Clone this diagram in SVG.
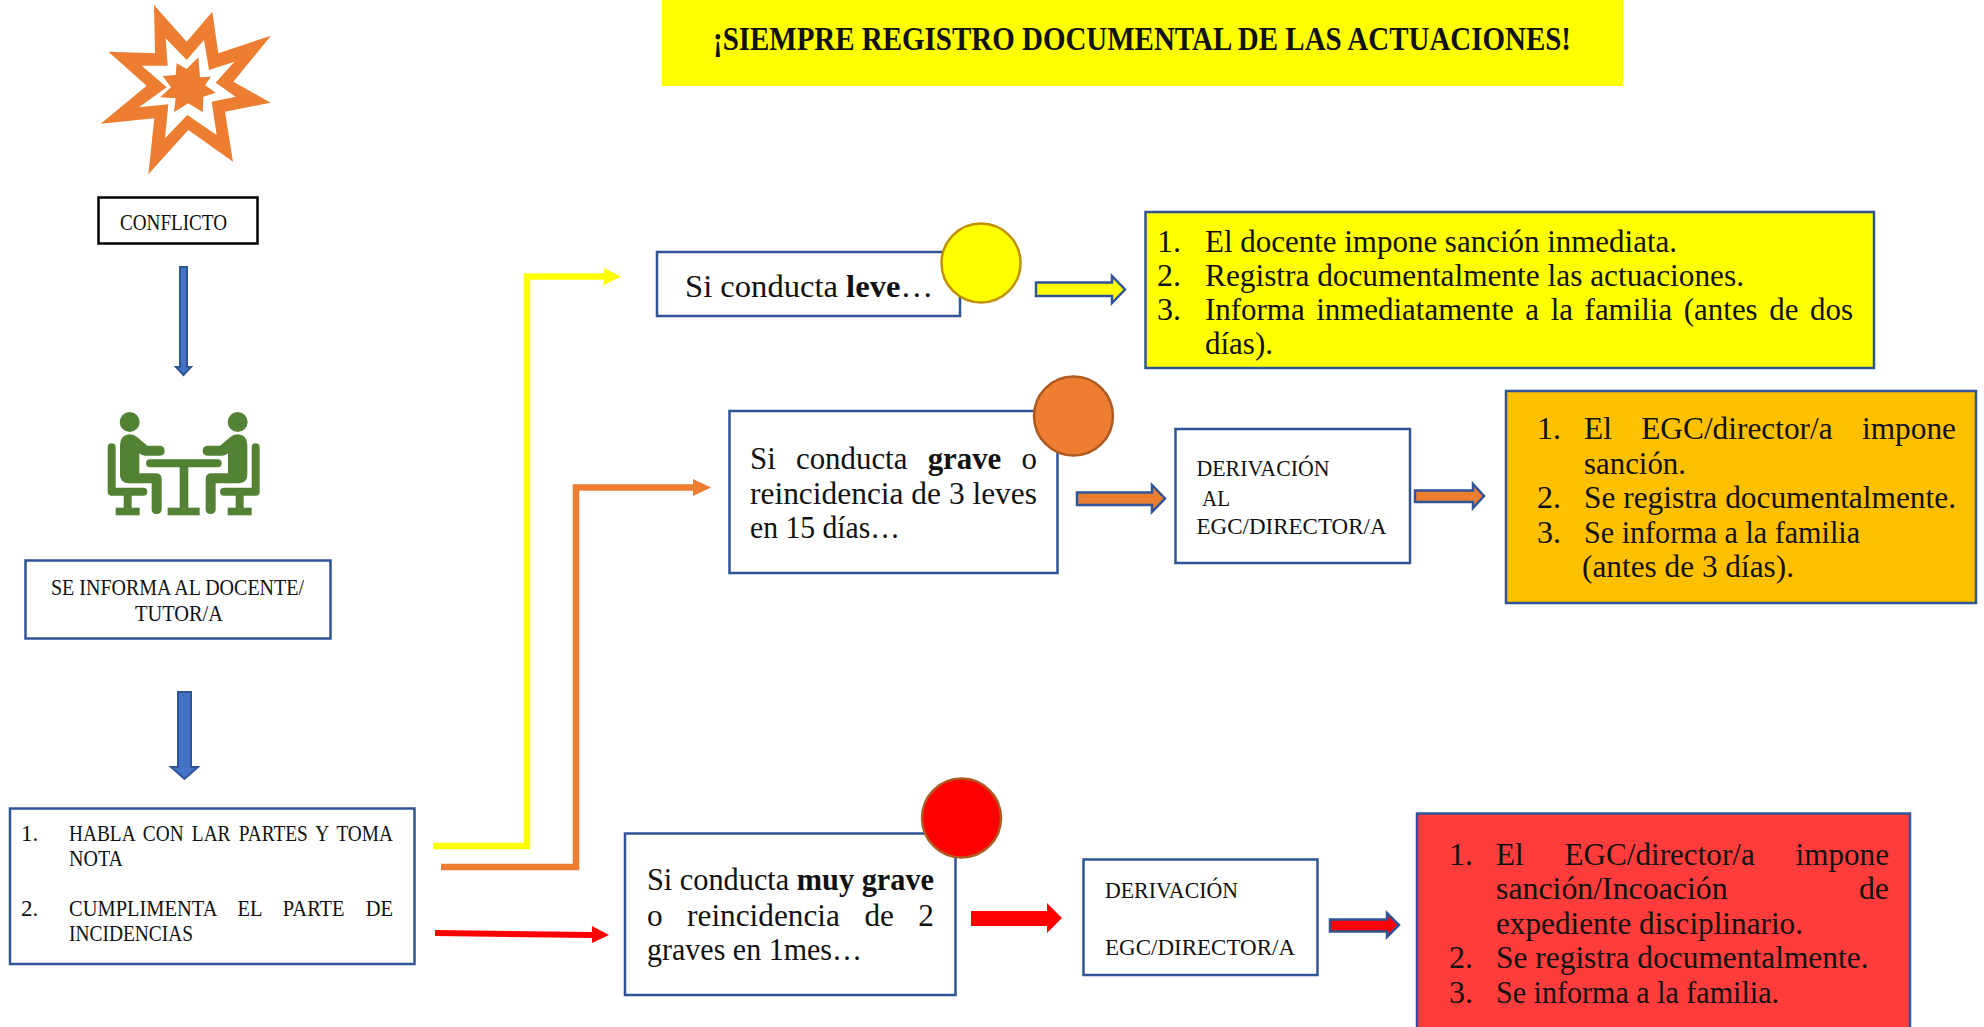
<svg xmlns="http://www.w3.org/2000/svg" xmlns:xlink="http://www.w3.org/1999/xlink" width="1984" height="1027" viewBox="0 0 1984 1027">
<style>
text{font-family:"Liberation Serif","Times New Roman",serif;fill:#111}
.s{font-size:23px}
.l{font-size:32px}
.box{fill:#fff;stroke:#2f5597;stroke-width:2.5}
.blk{fill:#fff;stroke:#000;stroke-width:2.5}
.or{fill:#ed7d31}
.gr{fill:#548235}
.ol{fill:none;stroke-width:6.500}
.ar{stroke:#2f5597;stroke-width:2.500}
.b{font-weight:700}
</style>
<defs>
<g id="person" class="gr">
<circle cx="209" cy="126" r="30"/>
<path d="M180 195Q180 165 208 163Q222 163 232 172L262 197H300Q314 199 314 212Q314 226 300 227H255Q245 227 238 220V280H290Q305 282 305 297V390Q303 402 290 402Q277 402 275 390V310H205Q180 308 180 285Z"/>
<path d="M155 202V335H250" fill="none" stroke="#548235" stroke-width="24" stroke-linecap="round" stroke-linejoin="round"/>
<rect x="191" y="345" width="24" height="45"/>
<rect x="167" y="383" width="72" height="23"/>
</g>
</defs>
<rect width="1984" height="1027" fill="#fff"/>

<g id="banner">
<rect x="662" y="0" width="961" height="86" fill="#ff0" />
<text class="b" x="713" y="50" font-size="33" textLength="858" lengthAdjust="spacingAndGlyphs">¡SIEMPRE REGISTRO DOCUMENTAL DE LAS ACTUACIONES!</text>
</g>

<g id="explosion" transform="translate(60 0) scale(.33333)">
<path class="or" fill-rule="evenodd" d="M282 15L380 125L457 35L475 160L633 107L520 245L632 308L495 335L519 485L385 390L265 523L283 355L122 371L260 257L145 155L285 160ZM317 115L323 197L245 197L320 262L237 322L325 313L315 415L382 345L470 405L455 305L527 290L467 248L523 185L447 210L432 120L380 180Z"/>
<path class="or" d="M350 190L380 207L415 172L420 232L453 230L435 255L467 278L430 290L428 337L385 310L342 337L347 295L300 292L333 262L308 228L347 225Z"/>
</g>

<g id="conflicto">
<rect class="blk" x="98.500" y="197.500" width="159" height="46"/>
<text class="s" x="120" y="229.500" textLength="107" lengthAdjust="spacingAndGlyphs">CONFLICTO</text>
</g>

<g id="reunion" transform="translate(60 380) scale(.33333)">
<use xlink:href="#person" href="#person"/>
<use xlink:href="#person" href="#person" transform="matrix(-1 0 0 1 742 0)"/>
<path d="M270 250H473" stroke="#548235" stroke-width="24" stroke-linecap="round"/>
<rect class="gr" x="359" y="250" width="26" height="140"/>
<rect class="gr" x="323" y="383" width="96" height="23"/>
</g>

<g id="informa">
<rect class="box" x="25.500" y="560.500" width="305" height="78"/>
<text class="s" x="51" y="595" textLength="253" lengthAdjust="spacingAndGlyphs">SE INFORMA AL DOCENTE/</text>
<text class="s" x="135" y="621" textLength="88" lengthAdjust="spacingAndGlyphs">TUTOR/A</text>
</g>

<g id="habla">
<rect class="box" x="10" y="808.500" width="404.500" height="155.500"/>
<text class="s" x="21" y="841">1.</text>
<text class="s" x="69" y="841" word-spacing="4" textLength="324" lengthAdjust="spacingAndGlyphs">HABLA CON LAR PARTES Y TOMA</text>
<text class="s" x="69" y="866" textLength="54" lengthAdjust="spacingAndGlyphs">NOTA</text>
<text class="s" x="21" y="916">2.</text>
<text class="s" x="69" y="916" word-spacing="18" textLength="324" lengthAdjust="spacingAndGlyphs">CUMPLIMENTA EL PARTE DE</text>
<text class="s" x="69" y="941" textLength="124" lengthAdjust="spacingAndGlyphs">INCIDENCIAS</text>
</g>

<g id="connectors">
<polygon points="180,267 187,267 187,367 191,367 183.500,375 176,367 180,367" fill="#4472c4" stroke="#2f5597" stroke-width="2"/>
<polygon points="178,692 191,692 191,767 198,767 184.500,779 171,767 178,767" fill="#4472c4" stroke="#2f5597" stroke-width="2"/>
<path class="ol" stroke="#ff0" d="M433 846H527V276.500H606"/>
<polygon points="604,268 621,276.500 604,285" fill="#ff0"/>
<path class="ol" stroke="#ed7d31" d="M441 867H576V487.500H695"/>
<polygon points="693,479 711,487.500 693,496" fill="#ed7d31"/>
<polygon points="435,930 592,932 592,926 609,935 592,943 592,938 435,936" fill="#f00"/>
<polygon class="ar" points="1036,282.500 1112,282.500 1112,276 1125,289.500 1112,303 1112,296 1036,296" fill="#ff0"/>
<polygon class="ar" points="1077,492.500 1152,492.500 1152,485 1165,498.500 1152,512 1152,505 1077,505" fill="#ed7d31"/>
<polygon class="ar" points="1415,490.500 1473,490.500 1473,484 1484,496 1473,508 1473,502 1415,502" fill="#ed7d31"/>
<polygon points="971,911 1047,911 1047,903 1062,918 1047,933 1047,926 971,926" fill="#f00"/>
<polygon class="ar" points="1330,919.500 1387,919.500 1387,913 1399,925 1387,937 1387,931.500 1330,931.500" fill="#f00"/>
</g>

<g id="leve">
<rect class="box" x="657" y="252" width="303" height="64"/>
<text class="l" x="685" y="297" textLength="248" lengthAdjust="spacingAndGlyphs">Si conducta <tspan class="b">leve</tspan>…</text>
<ellipse cx="981" cy="263" rx="39.500" ry="39.500" fill="#ff0" stroke="#bf9000" stroke-width="2.500"/>
</g>

<g id="leve-acciones">
<rect class="box" x="1145.500" y="212" width="728.500" height="156" style="fill:#ff0"/>
<text class="l" x="1157" y="252">1.</text>
<text class="l" x="1205" y="252" textLength="472" lengthAdjust="spacingAndGlyphs">El docente impone sanción inmediata.</text>
<text class="l" x="1157" y="286">2.</text>
<text class="l" x="1205" y="286" textLength="539" lengthAdjust="spacingAndGlyphs">Registra documentalmente las actuaciones.</text>
<text class="l" x="1157" y="320">3.</text>
<text class="l" x="1205" y="320" word-spacing="4" textLength="648" lengthAdjust="spacingAndGlyphs">Informa inmediatamente a la familia (antes de dos</text>
<text class="l" x="1205" y="354" textLength="68" lengthAdjust="spacingAndGlyphs">días).</text>
</g>

<g id="grave">
<rect class="box" x="729.500" y="411" width="328" height="162"/>
<text class="l" x="750" y="469" word-spacing="13" textLength="287" lengthAdjust="spacingAndGlyphs">Si conducta <tspan class="b">grave</tspan> o</text>
<text class="l" x="750" y="504" textLength="287" lengthAdjust="spacingAndGlyphs">reincidencia de 3 leves</text>
<text class="l" x="750" y="538" textLength="150" lengthAdjust="spacingAndGlyphs">en 15 días…</text>
<ellipse cx="1073.500" cy="416" rx="39.500" ry="39.500" fill="#ed7d31" stroke="#ae5a21" stroke-width="2.500"/>
</g>

<g id="derivacion-grave">
<rect class="box" x="1175.500" y="429" width="234.500" height="134"/>
<text class="s" x="1196.500" y="476" textLength="133" lengthAdjust="spacingAndGlyphs">DERIVACIÓN</text>
<text class="s" x="1202" y="506" textLength="28" lengthAdjust="spacingAndGlyphs">AL</text>
<text class="s" x="1196.500" y="534" textLength="190" lengthAdjust="spacingAndGlyphs">EGC/DIRECTOR/A</text>
</g>

<g id="grave-acciones">
<rect class="box" x="1506" y="391" width="470" height="212" style="fill:#ffc000"/>
<text class="l" x="1537" y="439">1.</text>
<text class="l" x="1584" y="439" word-spacing="22" textLength="372" lengthAdjust="spacingAndGlyphs">El EGC/director/a impone</text>
<text class="l" x="1584" y="474" textLength="102" lengthAdjust="spacingAndGlyphs">sanción.</text>
<text class="l" x="1537" y="508">2.</text>
<text class="l" x="1584" y="508" textLength="372" lengthAdjust="spacingAndGlyphs">Se registra documentalmente.</text>
<text class="l" x="1537" y="543">3.</text>
<text class="l" x="1584" y="543" textLength="276" lengthAdjust="spacingAndGlyphs">Se informa a la familia</text>
<text class="l" x="1582" y="577" textLength="212" lengthAdjust="spacingAndGlyphs">(antes de 3 días).</text>
</g>

<g id="muy-grave">
<rect class="box" x="625" y="833.500" width="330.500" height="161.500"/>
<text class="l" x="647" y="890" textLength="287" lengthAdjust="spacingAndGlyphs">Si conducta <tspan class="b">muy grave</tspan></text>
<text class="l" x="647" y="926" word-spacing="17" textLength="287" lengthAdjust="spacingAndGlyphs">o reincidencia de 2</text>
<text class="l" x="647" y="960" textLength="215" lengthAdjust="spacingAndGlyphs">graves en 1mes…</text>
<ellipse cx="961.500" cy="818" rx="39.500" ry="39.500" fill="#f00" stroke="#ae5a21" stroke-width="2.500"/>
</g>

<g id="derivacion-muy-grave">
<rect class="box" x="1083.500" y="859.500" width="234" height="115.500"/>
<text class="s" x="1105" y="898" textLength="133" lengthAdjust="spacingAndGlyphs">DERIVACIÓN</text>
<text class="s" x="1105" y="955" textLength="190" lengthAdjust="spacingAndGlyphs">EGC/DIRECTOR/A</text>
</g>

<g id="muy-grave-acciones">
<rect class="box" x="1417" y="813.500" width="493" height="230" style="fill:#ff3c3c"/>
<text class="l" x="1449" y="865">1.</text>
<text class="l" x="1496" y="865" word-spacing="34" textLength="393" lengthAdjust="spacingAndGlyphs">El EGC/director/a impone</text>
<text class="l" x="1496" y="899" word-spacing="124" textLength="393" lengthAdjust="spacingAndGlyphs">sanción/Incoación de</text>
<text class="l" x="1496" y="934" textLength="307" lengthAdjust="spacingAndGlyphs">expediente disciplinario.</text>
<text class="l" x="1449" y="968">2.</text>
<text class="l" x="1496" y="968" textLength="372.500" lengthAdjust="spacingAndGlyphs">Se registra documentalmente.</text>
<text class="l" x="1449" y="1003">3.</text>
<text class="l" x="1496" y="1003" textLength="283" lengthAdjust="spacingAndGlyphs">Se informa a la familia.</text>
</g>
</svg>
